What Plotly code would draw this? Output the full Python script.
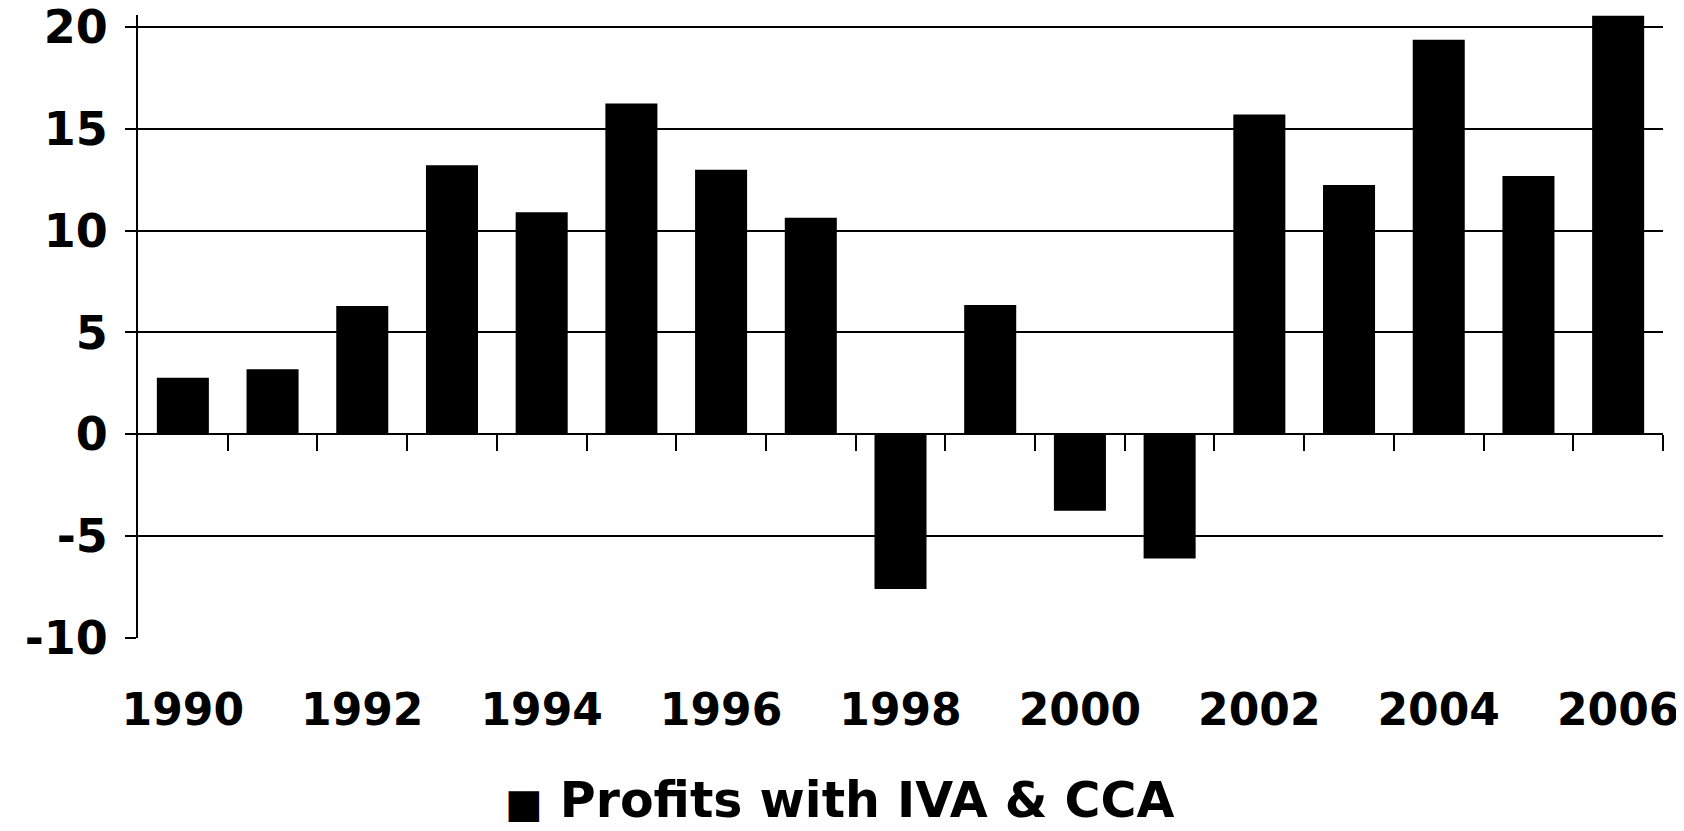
import plotly.graph_objs as go

years = list(range(1990, 2007))
profits = [2.78, 3.19, 6.3, 13.2, 10.9, 16.24, 12.98, 10.63, -7.6,
           6.34, -3.76, -6.1, 15.7, 12.24, 19.37, 12.68, 20.54]
label_years = years[::2]
y_ticks = [-10, -5, 0, 5, 10, 15, 20]
y_ticktext = ['-10', '-5', '0', '5', '10', '15', '20']
legend_name = 'Profits with IVA & CCA'

y_min, y_max = -10, 20.58
font_family = 'DejaVu Sans'

fig = go.Figure()

# the bars
fig.add_trace(go.Bar(x=years, y=profits, width=0.58, marker_color='black',
                     marker_line_width=0, name=legend_name, showlegend=False))

# invisible trace so the tick-only axis sitting on the zero line gets drawn
fig.add_trace(go.Scatter(x=[years[0]], y=[0], xaxis='x2', mode='markers',
                         marker=dict(opacity=0), showlegend=False, hoverinfo='skip'))

boundaries = [y + 0.5 for y in years]

# page body has an 8px margin, figure sized so it ends at the window edge
fig.update_layout(
    width=1676, height=823,
    margin=dict(l=130, r=21, t=7, b=193),
    plot_bgcolor='white', paper_bgcolor='white',
    xaxis=dict(
        range=[years[0] - 0.5, years[-1] + 0.5],
        tickvals=label_years,
        ticktext=[str(y) for y in label_years],
        ticks='', showgrid=False, showline=False, zeroline=False,
        automargin=False, ticklabeloverflow='allow',
        tickfont=dict(family=font_family, size=44, color='black', weight='bold'),
        ticklabelstandoff=42,
    ),
    xaxis2=dict(
        overlaying='x', anchor='free',
        position=(0 - y_min) / (y_max - y_min),
        range=[years[0] - 0.5, years[-1] + 0.5],
        tickvals=boundaries, ticks='outside', ticklen=16, tickwidth=2,
        tickcolor='black', showticklabels=False, showgrid=False,
        showline=False, zeroline=False, automargin=False,
    ),
    yaxis=dict(
        range=[y_min, y_max],
        tickvals=y_ticks, ticktext=y_ticktext,
        ticks='outside', ticklen=11, tickwidth=2, tickcolor='black',
        showgrid=True, gridcolor='black', gridwidth=2,
        zeroline=True, zerolinecolor='black', zerolinewidth=2,
        showline=True, linecolor='black', linewidth=2,
        automargin=False, ticklabeloverflow='allow',
        tickfont=dict(family=font_family, size=46, color='black', weight='bold'),
        ticklabelstandoff=8,
    ),
    annotations=[dict(
        text="<span style='font-size:40px'>■</span> " + legend_name.replace('&', '&amp;'),
        x=0.46, y=-0.2616, xref='paper', yref='paper',
        xanchor='center', yanchor='middle', showarrow=False,
        font=dict(family=font_family, size=49, color='black', weight='bold'),
    )],
)

fig.write_html("out.html")
